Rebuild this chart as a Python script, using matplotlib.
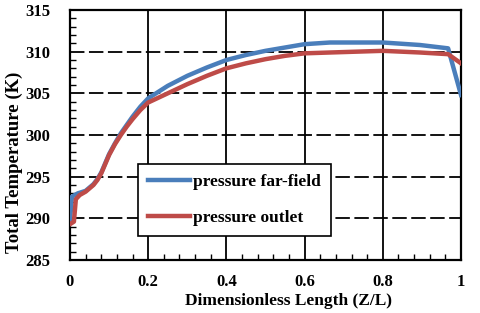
import matplotlib
matplotlib.use("Agg")
import matplotlib.pyplot as plt
from matplotlib.ticker import MultipleLocator

# Data
far_x = [0.0, 0.005, 0.02, 0.04, 0.05, 0.06, 0.07, 0.08, 0.09, 0.10, 0.115, 0.13, 0.145, 0.16, 0.18, 0.2, 0.25, 0.3, 0.35, 0.4, 0.45, 0.5, 0.55, 0.6, 0.665, 0.8, 0.895, 0.967, 1.0]
far_y = [289.8, 292.6, 293.0, 293.3, 293.7, 294.1, 294.7, 295.5, 296.6, 297.7, 299.0, 300.2, 301.2, 302.2, 303.4, 304.4, 305.9, 307.1, 308.1, 309.0, 309.6, 310.1, 310.5, 310.9, 311.1, 311.1, 310.8, 310.4, 304.8]
out_x = [0.0, 0.01, 0.015, 0.025, 0.04, 0.05, 0.06, 0.07, 0.08, 0.09, 0.10, 0.115, 0.13, 0.145, 0.16, 0.18, 0.2, 0.25, 0.3, 0.35, 0.4, 0.45, 0.5, 0.55, 0.6, 0.665, 0.8, 0.895, 0.967, 1.0]
out_y = [289.3, 289.6, 292.3, 292.8, 293.2, 293.6, 294.0, 294.6, 295.4, 296.5, 297.6, 298.9, 300.0, 301.0, 301.9, 303.0, 303.9, 305.0, 306.1, 307.1, 308.0, 308.6, 309.1, 309.5, 309.8, 309.9, 310.1, 309.9, 309.7, 308.6]
labels = ["pressure far-field", "pressure outlet"]
xticks = [0, 0.2, 0.4, 0.6, 0.8, 1]
xticklabels = ["0", "0.2", "0.4", "0.6", "0.8", "1"]
yticks = [285, 290, 295, 300, 305, 310, 315]

plt.rcParams['font.family'] = ['Liberation Serif', 'DejaVu Serif']
plt.rcParams['font.weight'] = 'bold'

fig = plt.figure(figsize=(4.8, 3.13), dpi=100)
ax = fig.add_axes([70/480, 53/313, 391/480, 250/313])

ax.plot(far_x, far_y, color='#4A7EBB', lw=3.2, label=labels[0], zorder=3, solid_joinstyle='round')
ax.plot(out_x, out_y, color='#BE4B48', lw=3.2, label=labels[1], zorder=3, solid_joinstyle='round')

ax.set_xlim(0, 1)
ax.set_ylim(285, 315)
ax.set_xticks(xticks)
ax.set_xticklabels(xticklabels)
ax.set_yticks(yticks)
ax.xaxis.set_minor_locator(MultipleLocator(0.04))
ax.yaxis.set_minor_locator(MultipleLocator(1))
ax.tick_params(which='both', direction='in', color='black')
ax.tick_params(which='major', length=0, labelsize=12)
ax.tick_params(axis='y', which='major', pad=14)
ax.tick_params(axis='x', which='major', pad=10)
ax.tick_params(which='minor', length=4, width=1)

for sp in ax.spines.values():
    sp.set_linewidth(1.6)
    sp.set_color('black')

for y in [290, 295, 300, 305, 310]:
    ax.axhline(y, color='black', lw=1.3, linestyle=(0, (8, 2.5)), zorder=1)
for x in [0.2, 0.4, 0.6, 0.8]:
    ax.axvline(x, color='black', lw=1.3, zorder=1)

ax.set_xlabel("Dimensionless Length (Z/L)", fontsize=12.5, fontweight='bold', labelpad=2, x=0.56)
ax.set_ylabel("Total Temperature (K)", fontsize=13.5, fontweight='bold', labelpad=2, y=0.39)

leg = ax.legend(loc='lower left', bbox_to_anchor=(0.174, 0.096), borderaxespad=0,
                fontsize=12.5, frameon=True, fancybox=False, edgecolor='black',
                framealpha=1, handlelength=2.4, labelspacing=1.1, borderpad=0.6,
                handletextpad=0.15)
leg.get_frame().set_linewidth(1.2)
leg.set_zorder(5)

fig.savefig("out.png", dpi=100)
